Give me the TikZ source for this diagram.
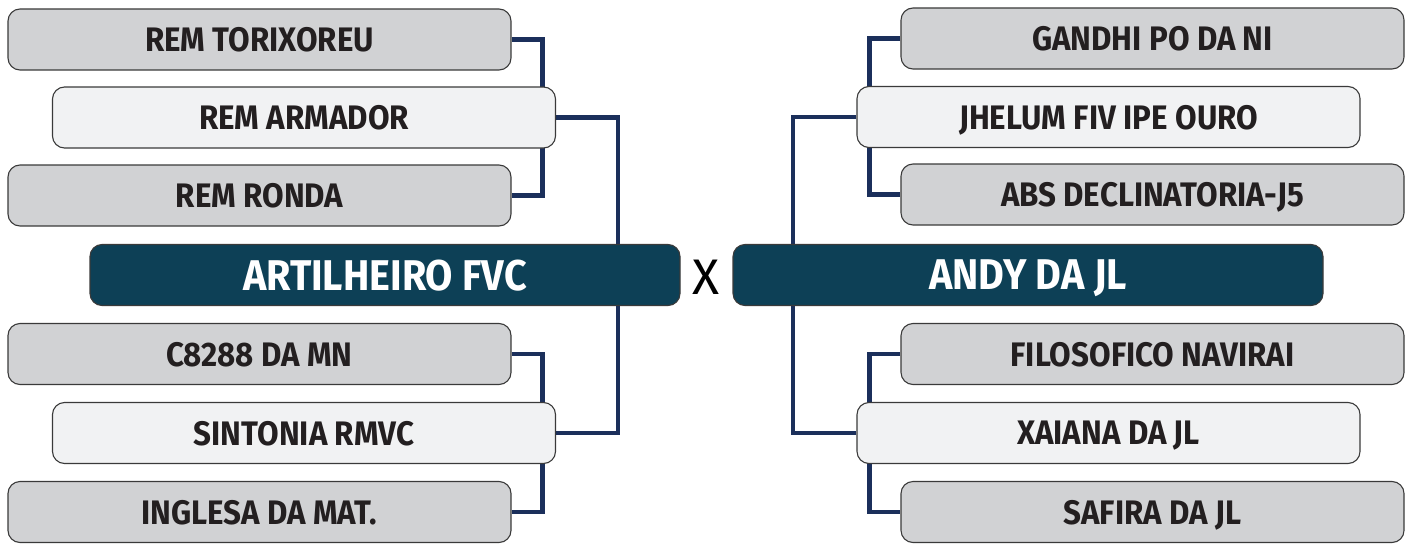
\documentclass[tikz,border=0pt]{standalone}
\usepackage{fontspec}
\setmainfont{Fira Sans}[FakeStretch=0.92]
\newfontfamily\xfont{Fira Sans}
\definecolor{grayfill}{HTML}{D1D2D4}
\definecolor{lightfill}{HTML}{F1F2F3}
\definecolor{darkfill}{HTML}{0D4056}
\definecolor{connc}{HTML}{1B2F5B}
\definecolor{edgec}{HTML}{3A3A3A}
\definecolor{txtc}{HTML}{231F20}
\pgfdeclarelayer{bg}
\pgfsetlayers{bg,main}
\tikzset{
  basebox/.style={draw=edgec, line width=1.1pt, rounded corners=12pt, minimum height=61pt, inner sep=0pt, text depth=0pt},
  graybox/.style={basebox, fill=grayfill, minimum width=503pt, text=txtc, font=\fontsize{34}{36}\selectfont\bfseries},
  lightbox/.style={basebox, fill=lightfill, minimum width=503pt, text=txtc, font=\fontsize{34}{36}\selectfont\bfseries},
  darkbox/.style={basebox, fill=darkfill, minimum width=590pt, text=white, font=\fontsize{43}{45}\selectfont\bfseries},
  conn/.style={draw=connc, line width=4.5pt},
}
\begin{document}
\begin{tikzpicture}[x=1pt,y=-1pt]
\useasboundingbox (0,0) rectangle (1412,543);
% left side
\node[graybox]  (l1) at (259.5,39.5) {REM TORIXOREU};
\node[lightbox] (l2) at (304,117.5) {REM ARMADOR};
\node[graybox]  (l3) at (259.5,195.5) {REM RONDA};
\node[darkbox]  (lf) at (385,275) {ARTILHEIRO FVC};
\node[graybox]  (l4) at (259.5,354) {C8288 DA MN};
\node[lightbox] (l5) at (304,433) {SINTONIA RMVC};
\node[graybox]  (l6) at (259.5,512) {INGLESA DA MAT.};
% versus
\node[font=\xfont\fontsize{50}{52}\selectfont, inner sep=0pt] (vs) at (706,277) {X};
% right side
\node[graybox]  (r1) at (1152.5,38.5) {GANDHI PO DA NI};
\node[lightbox] (r2) at (1108.5,117) {JHELUM FIV IPE OURO};
\node[graybox]  (r3) at (1152.5,194.5) {ABS DECLINATORIA-J5};
\node[darkbox]  (rf) at (1028,275) {ANDY DA JL};
\node[graybox]  (r4) at (1152.5,354) {FILOSOFICO NAVIRAI};
\node[lightbox] (r5) at (1108.5,433) {XAIANA DA JL};
\node[graybox]  (r6) at (1152.5,512) {SAFIRA DA JL};
\begin{pgfonlayer}{bg}
  \draw[conn] (l1.east) -- ++(31,0) |- (l3.east);
  \draw[conn] (l4.east) -- ++(31,0) |- (l6.east);
  \draw[conn] (l2.east) -| ([xshift=233pt]lf.center);
  \draw[conn] (l5.east) -| ([xshift=233pt]lf.center);
  \draw[conn] (r1.west) -- ++(-31,0) |- (r3.west);
  \draw[conn] (r4.west) -- ++(-31,0) |- (r6.west);
  \draw[conn] (r2.west) -| ([xshift=-235pt]rf.center);
  \draw[conn] (r5.west) -| ([xshift=-235pt]rf.center);
\end{pgfonlayer}
\end{tikzpicture}
\end{document}
